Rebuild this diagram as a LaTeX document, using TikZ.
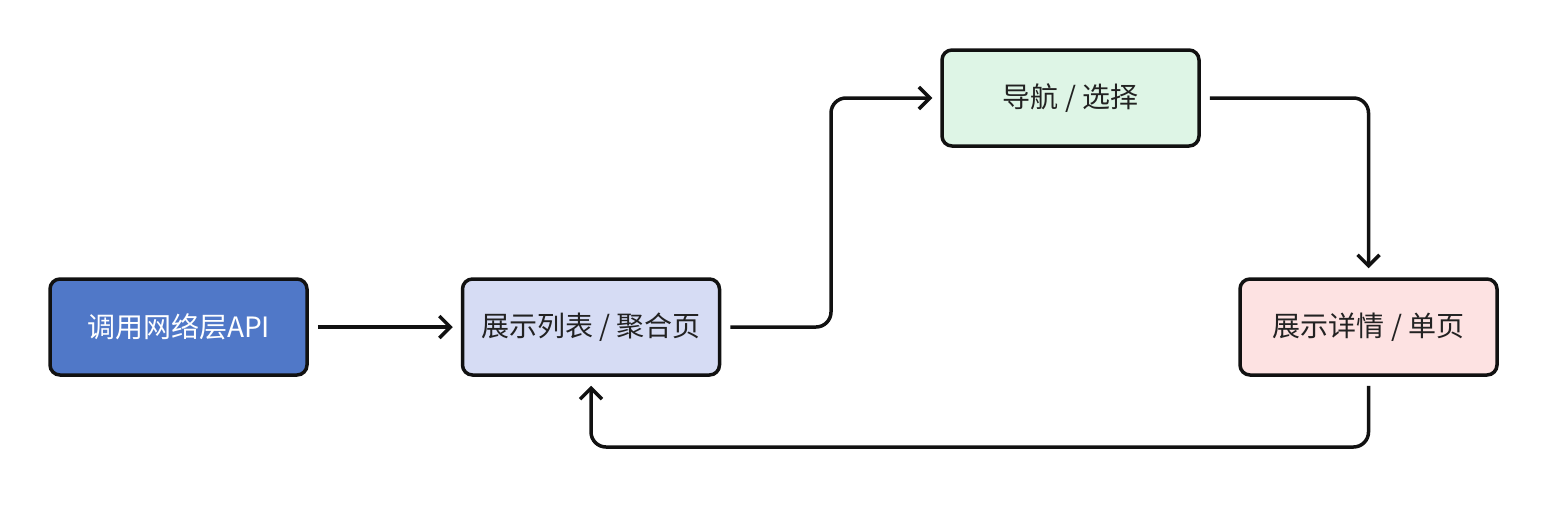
\documentclass[tikz,border=0pt]{standalone}
\usepackage{fontspec}
\setmainfont{Noto Sans CJK SC}
\usetikzlibrary{arrows.meta}
\definecolor{boxA}{RGB}{80,120,200}
\definecolor{boxB}{RGB}{214,220,244}
\definecolor{boxC}{RGB}{222,245,230}
\definecolor{boxD}{RGB}{253,226,226}
\definecolor{edge}{RGB}{17,17,17}
\definecolor{txt}{RGB}{34,34,34}
\begin{document}
\begin{tikzpicture}[x=1pt,y=-1pt,
  flowbox/.style={draw=edge, line width=3.5pt, rounded corners=10pt,
    minimum width=257pt, minimum height=96pt, inner sep=0pt,
    font=\fontsize{28}{32}\selectfont, text=txt},
  conn/.style={draw=edge, line width=3.5pt, rounded corners=15pt,
    -{Straight Barb[length=11pt,width=22pt,line width=3.5pt]}}]
\useasboundingbox[fill=white] (0,0) rectangle (1546,504);
\node[flowbox, fill=boxA, text=white] (api) at (178.5,327) {调用网络层API};
\node[flowbox, fill=boxB] (list) at (591,327) {展示列表 / 聚合页};
\node[flowbox, fill=boxC] (nav) at (1070.5,98) {导航 / 选择};
\node[flowbox, fill=boxD] (detail) at (1368.5,327) {展示详情 / 单页};
\draw[conn] ([xshift=9pt]api.east) -- ([xshift=-8pt]list.west);
\draw[conn] ([xshift=9pt]list.east) -- (831,327) -- (831,98) -- ([xshift=-8pt]nav.west);
\draw[conn] ([xshift=9pt]nav.east) -- (1368.5,98) -- ([yshift=9pt]detail.north);
\draw[conn] ([yshift=-9pt]detail.south) -- (1368.5,447) -- (591,447) -- ([yshift=-9pt]list.south);
\end{tikzpicture}
\end{document}
